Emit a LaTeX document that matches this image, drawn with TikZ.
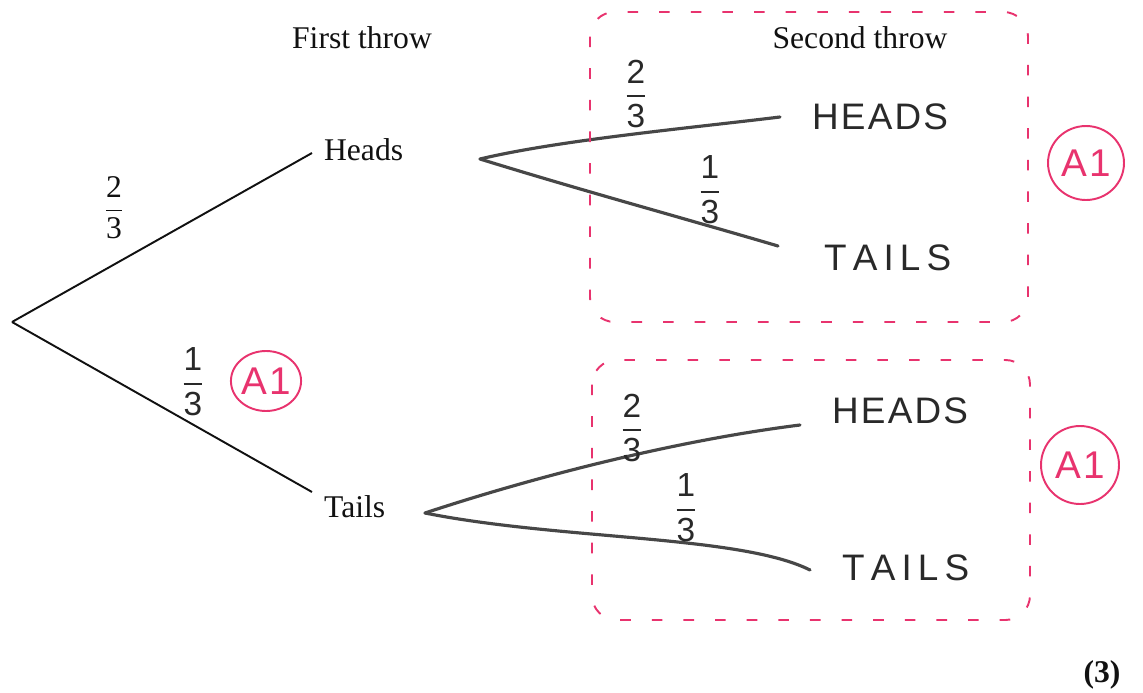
\documentclass[tikz,border=0pt]{standalone}
\usepackage{amsmath}
\usepackage{fontspec}
\setmainfont{Liberation Serif}
\newfontfamily\handfont[LetterSpace=6]{Liberation Sans}
\usetikzlibrary{shapes.geometric}
\definecolor{Ink}{HTML}{111111}
\definecolor{Pencil}{HTML}{474747}
\definecolor{Marker}{HTML}{E8336E}
\newcommand{\handfrac}[2]{$\genfrac{}{}{1.4pt}{0}{\mbox{#1}}{\mbox{#2}}$}

\begin{document}
\begin{tikzpicture}[
  x=0.02cm, y=-0.02cm,
  print/.style={font=\fontsize{18}{21}\selectfont, text=Ink, inner sep=1pt},
  hand/.style={font=\handfont\fontsize{21}{24}\selectfont, text=Ink!90, inner sep=1pt},
  handnum/.style={font=\handfont\fontsize{19}{21}\selectfont, text=Ink!90, inner sep=0pt},
  branch/.style={draw=Ink, line width=1.1pt},
  pencil/.style={draw=Pencil, line width=1.8pt, line cap=round},
  grade/.style={ellipse, draw=Marker, line width=1.1pt, text=Marker, font=\handfont\fontsize{22}{24}\selectfont, inner sep=0pt},
  markbox/.style={draw=Marker, line width=1.1pt, dash pattern=on 6pt off 12pt, rounded corners=14pt}
]
\useasboundingbox (0,0) rectangle (1143,693);

% headings
\node[print] (first) at (362,38) {First throw};
\node[print] (second) at (860,38) {Second throw};

% first throw
\coordinate (root) at (12,322);
\coordinate (hend) at (312,153);
\coordinate (tend) at (312,492);
\node[print, anchor=west] (heads) at (322,150) {Heads};
\node[print, anchor=west] (tails) at (322,507) {Tails};
\draw[branch] (root) -- (hend);
\draw[branch] (root) -- (tend);
\node[print] (pheads) at (114,208) {$\dfrac{\mbox{2}}{\mbox{3}}$};
\node[handnum] (ptails) at (193,382) {\handfrac{1}{3}};
\node[grade, minimum width=1.36cm, minimum height=1.2cm] (gradeA) at (266,381) {A1};

% second throw after heads
\coordinate (hfork) at (480,159);
\coordinate (hhend) at (780,117);
\coordinate (htend) at (778,246);
\node[hand, anchor=west] (hh) at (810,117) {HEADS};
\node[hand, anchor=west] (ht) at (822,258) {T\,A\,I\,L\,S};
\draw[pencil] (hfork) .. controls (560,140) and (690,128) .. (hhend);
\draw[pencil] (hfork) .. controls (580,190) and (690,220) .. (htend);
\node[handnum] (phh) at (636,94) {\handfrac{2}{3}};
\node[handnum] (pht) at (710,190) {\handfrac{1}{3}};
\draw[markbox] (590,12) rectangle (1028,322);
\node[grade, minimum width=1.52cm, minimum height=1.48cm] (gradeB) at (1086,163) {A1};

% second throw after tails
\coordinate (tfork) at (425,513);
\coordinate (thend) at (800,425);
\coordinate (ttend) at (810,570);
\node[hand, anchor=west] (th) at (830,411) {HEADS};
\node[hand, anchor=west] (tt) at (840,568) {T\,A\,I\,L\,S};
\draw[pencil] (tfork) .. controls (540,475) and (680,440) .. (thend);
\draw[pencil] (tfork) .. controls (560,540) and (740,535) .. (ttend);
\node[handnum] (pth) at (632,428) {\handfrac{2}{3}};
\node[handnum] (ptt) at (686,508) {\handfrac{1}{3}};
\draw[markbox] (592,360) rectangle (1030,620);
\node[grade, minimum width=1.56cm, minimum height=1.56cm] (gradeC) at (1080,465) {A1};

\node[print, font=\fontsize{18}{21}\selectfont\bfseries] (total) at (1102,675) {(3)};
\end{tikzpicture}
\end{document}
